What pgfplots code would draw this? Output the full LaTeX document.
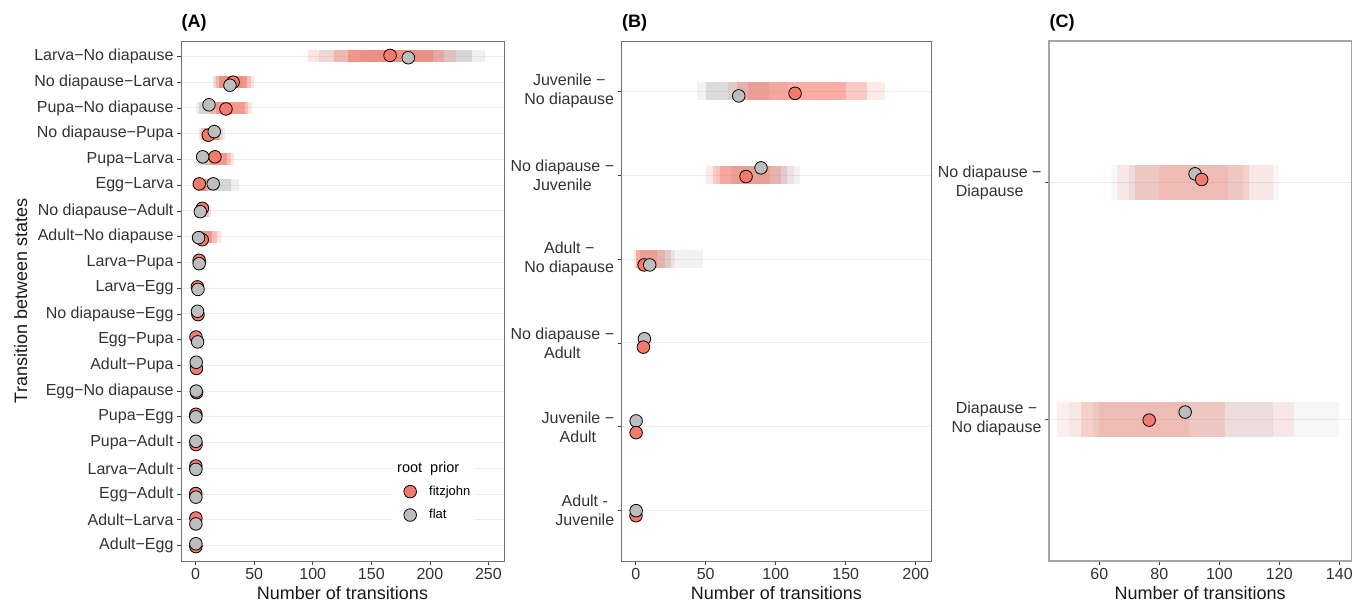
\documentclass[border=0pt]{standalone}
\usepackage{fontspec}
\setmainfont{Liberation Sans}
\usepackage{pgfplots}
\pgfplotsset{compat=1.18}

\definecolor{fitz}{HTML}{F37B6B}
\definecolor{flat}{HTML}{BEBEBE}
\definecolor{gridc}{HTML}{EBEBEB}
\definecolor{txt}{HTML}{333333}

\pgfplotsset{
  panel/.style={
    scale only axis, anchor=south west, height=520pt,
    axis line style={draw=black!55, line width=0.9pt},
    tick align=outside, major tick length=4pt,
    tick style={draw=black!75, line width=0.7pt},
    xtick pos=bottom, ytick pos=left,
    ymajorgrids, grid style={draw=gridc, line width=0.9pt},
    ticklabel style={font=\fontsize{16}{19}\selectfont, text=txt},
    yticklabel style={align=center},
    /pgf/number format/assume math mode=true,
    xlabel={Number of transitions},
    xlabel style={font=\fontsize{18}{20}\selectfont, text=black!90},
    every axis title/.style={at={(0,1)}, anchor=base west, yshift=13pt, xshift=-3pt,
      font=\bfseries\fontsize{18}{20}\selectfont},
    clip=false,
  },
  cloud/.style={forget plot, unbounded coords=jump, line cap=butt},
  mean/.style={only marks, mark=*, mark size=6.3pt,
    mark options={draw=black, line width=0.8pt, fill=#1}},
}

\begin{document}
\begin{tikzpicture}
\path[use as bounding box] (0,0) rectangle (1367pt,604pt);

% ---------------- (A) ----------------
\begin{axis}[panel, at={(181pt,43pt)}, width=323pt,
  title={(A)},
  xmin=-12.5, xmax=263.3, ymin=0.4, ymax=20.6,
  xtick={0,50,100,150,200,250},
  ytick={1,...,20},
  yticklabels={Adult−Egg, Adult−Larva, Egg−Adult, Larva−Adult, Pupa−Adult,
    Pupa−Egg, Egg−No diapause, Adult−Pupa, Egg−Pupa, No diapause−Egg,
    Larva−Egg, Larva−Pupa, Adult−No diapause, No diapause−Adult, Egg−Larva,
    Pupa−Larva, No diapause−Pupa, Pupa−No diapause, No diapause−Larva,
    Larva−No diapause},
  ylabel={Transition between states},
  ylabel style={font=\fontsize{18}{20}\selectfont, text=black!90},
  legend style={at={(axis cs:168.5,4.5)}, anchor=north west, fill=white,
    draw=none, font=\fontsize{13}{15}\selectfont, row sep=8.5pt,
    inner xsep=3pt, inner ysep=4pt},
  legend cell align=left,
  legend image code/.code={%
    \path[draw=none, fill=none] (0pt,-6pt) rectangle (31pt,6pt);
    \draw[#1] plot coordinates {(14pt,0pt)};},
]
% gray clouds
\addplot[cloud, flat, line width=12pt, opacity=0.25] coordinates {
  (105,20) (247,20) (nan,nan) (16,19) (43,19) (nan,nan) (0,18) (19,18) (nan,nan)
  (8,17) (25,17) (nan,nan) (0,16) (13,16) (nan,nan) (3,15) (37,15) (nan,nan)
  (0,14) (9,14) (nan,nan) (0,13) (13,13)};
\addplot[cloud, flat, line width=12pt, opacity=0.5] coordinates {
  (140,20) (236,20) (nan,nan) (20,19) (40,19) (nan,nan) (3,18) (15,18) (nan,nan)
  (10,17) (21,17) (nan,nan) (2,16) (10,16) (nan,nan) (6,15) (30,15) (nan,nan)
  (1,14) (7,14) (nan,nan) (0,13) (8,13)};
% red clouds
\addplot[cloud, fitz, line width=12pt, opacity=0.2] coordinates {
  (96,20) (222,20) (nan,nan) (15,19) (50,19) (nan,nan) (12,18) (48,18) (nan,nan)
  (3,17) (23,17) (nan,nan) (7,16) (33,16) (nan,nan) (-1,15) (13,15) (nan,nan)
  (1,14) (13,14) (nan,nan) (1,13) (22,13) (nan,nan) (0,12) (6,12) (nan,nan)
  (0,11) (4,11) (nan,nan) (0,10) (4,10)};
\addplot[cloud, fitz, line width=12pt, opacity=0.35] coordinates {
  (118,20) (212,20) (nan,nan) (17,19) (47,19) (nan,nan) (14,18) (45,18) (nan,nan)
  (5,17) (21,17) (nan,nan) (9,16) (30,16) (nan,nan) (0,15) (11,15) (nan,nan)
  (2,14) (11,14) (nan,nan) (2,13) (18,13) (nan,nan) (1,12) (5,12)};
\addplot[cloud, fitz, line width=12pt, opacity=0.55] coordinates {
  (130,20) (203,20) (nan,nan) (20,19) (44,19) (nan,nan) (17,18) (42,18) (nan,nan)
  (7,17) (19,17) (nan,nan) (12,16) (27,16) (nan,nan) (1,15) (9,15) (nan,nan)
  (3,14) (9,14) (nan,nan) (3,13) (14,13)};
% legend title
\addlegendimage{empty legend}
\addlegendentry{\hspace*{-32pt}\fontsize{14.5}{16}\selectfont root\ \ prior}
% posterior means
\addplot[mean=fitz] coordinates {
  (166,20.04) (32,19.0) (25.9,17.96) (10.8,16.94) (16.5,16.1) (3.1,15.05)
  (5.7,14.1) (5.6,12.88) (3,12.08) (1.5,11.05) (2,9.97) (0.3,9.1)
  (0.7,7.88) (0.8,6.94) (0.2,6.1) (0.3,4.92) (0.2,4.09) (0.1,3.02)
  (0.2,2.07) (0.2,0.96)};
\addlegendentry{fitzjohn}
\addplot[mean=flat] coordinates {
  (181.6,19.95) (29.3,18.88) (11.4,18.12) (15.9,17.08) (6,16.1) (15,15.05)
  (4,13.97) (2.5,12.96) (3,11.95) (2,10.95) (1.6,10.1) (1.7,8.91)
  (0.5,8.12) (0.5,7.0) (0.2,6.0) (0.2,5.05) (0.2,3.96) (0.2,2.88)
  (0.2,1.84) (0.2,1.07)};
\addlegendentry{flat}
\end{axis}

% ---------------- (B) ----------------
\begin{axis}[panel, at={(621.7pt,43pt)}, width=309.3pt,
  title={(B)},
  xmin=-10, xmax=210.9, ymin=0.4, ymax=6.6,
  xtick={0,50,100,150,200},
  ytick={1,...,6},
  yticklabels={{Adult -\\Juvenile}, {Juvenile −\\Adult}, {No diapause −\\Adult},
    {Adult −\\No diapause}, {No diapause −\\Juvenile}, {Juvenile −\\No diapause}},
]
\addplot[cloud, flat, line width=18pt, opacity=0.2] coordinates {
  (44,6) (108,6) (nan,nan) (58,5) (117,5) (nan,nan) (2,4) (48,4)};
\addplot[cloud, flat, line width=18pt, opacity=0.45] coordinates {
  (50,6) (95,6) (nan,nan) (68,5) (108,5) (nan,nan) (3,4) (25,4)};
\addplot[cloud, fitz, line width=18pt, opacity=0.15] coordinates {
  (66,6) (178,6) (nan,nan) (50,5) (113,5) (nan,nan) (-1,4) (28,4) (nan,nan)
  (3,3) (11,3)};
\addplot[cloud, fitz, line width=18pt, opacity=0.3] coordinates {
  (72,6) (165,6) (nan,nan) (55,5) (104,5) (nan,nan) (0,4) (21,4) (nan,nan)
  (4,3) (9,3)};
\addplot[cloud, fitz, line width=18pt, opacity=0.35] coordinates {
  (80,6) (150,6) (nan,nan) (60,5) (96,5) (nan,nan) (0,4) (15,4)};
\addplot[mean=fitz] coordinates {(113.8,5.976) (78.8,4.984) (6,3.93) (0.2,0.94)};
\addplot[mean=flat] coordinates {(73.6,5.945) (89.5,5.087) (10,3.93) (6.2,3.05)
  (0.3,2.07) (0.3,1.0)};
\addplot[mean=fitz] coordinates {(5.5,2.95) (0.3,1.93)};
\end{axis}

% ---------------- (C) ----------------
\begin{axis}[panel, at={(1049pt,43pt)}, width=302.3pt,
  title={(C)},
  axis line style={draw=black!35, line width=1.4pt},
  xmin=43.2, xmax=144, ymin=0.4, ymax=2.6,
  xtick={60,80,100,120,140},
  ytick={1,2},
  yticklabels={{Diapause −\\No diapause}, {No diapause −\\Diapause}},
]
\addplot[cloud, flat, line width=35pt, opacity=0.12] coordinates {
  (64,2) (120,2) (nan,nan) (50,1) (140,1)};
\addplot[cloud, flat, line width=35pt, opacity=0.22] coordinates {
  (70,2) (108,2) (nan,nan) (58,1) (118,1)};
\addplot[cloud, fitz, line width=35pt, opacity=0.12] coordinates {
  (66,2) (118,2) (nan,nan) (46,1) (125,1)};
\addplot[cloud, fitz, line width=35pt, opacity=0.22] coordinates {
  (72,2) (110,2) (nan,nan) (54,1) (102,1)};
\addplot[cloud, fitz, line width=35pt, opacity=0.15] coordinates {
  (80,2) (103,2) (nan,nan) (60,1) (90,1)};
\addplot[mean=flat] coordinates {(91.9,2.038) (88.6,1.03)};
\addplot[mean=fitz] coordinates {(94.1,2.014) (76.6,0.996)};
\end{axis}
\end{tikzpicture}
\end{document}
